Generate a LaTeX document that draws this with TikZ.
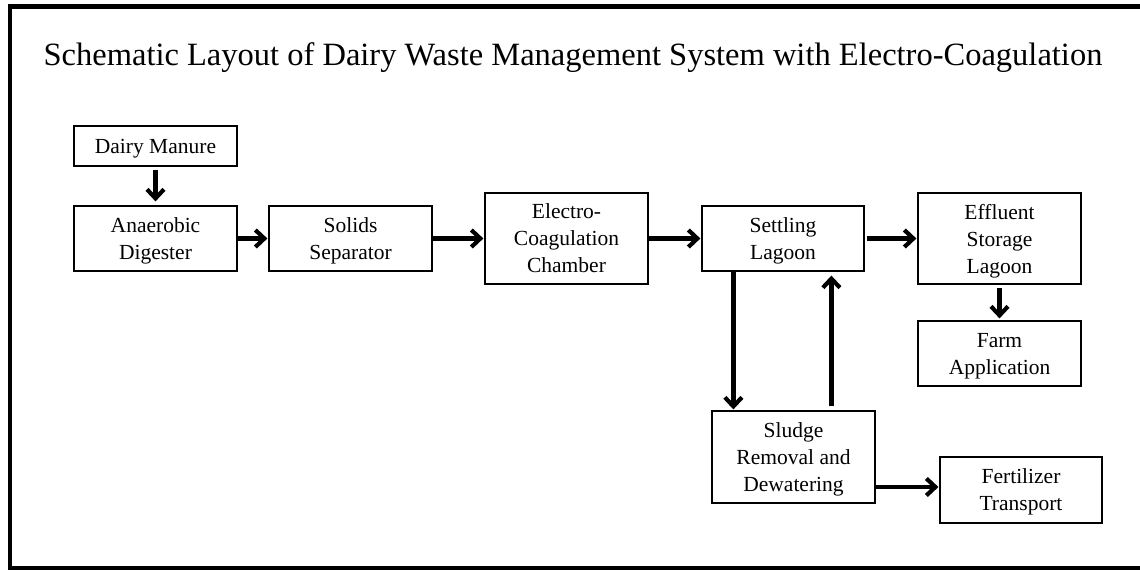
\documentclass[tikz,border=0pt]{standalone}
\usepackage{fontspec}
\setmainfont{Liberation Serif}
\usetikzlibrary{arrows.meta}
\tikzset{
  blk/.style={draw=black, line width=1.2pt, rectangle, inner sep=0pt, align=center,
    text depth=0pt, font=\fontsize{21.5}{27}\selectfont},
  arr/.style={line width=4.2pt, -{Straight Barb[length=9pt,width=17pt]}},
}
\begin{document}
\begin{tikzpicture}[x=1pt,y=-1pt]
\useasboundingbox (0,0) rectangle (1140,570);
\draw[line width=4.5pt] (10,6.5) rectangle (1160,568.5);
\node[anchor=base, font=\fontsize{32.5}{38}\selectfont] (title) at (573,65) {Schematic Layout of Dairy Waste Management System with Electro-Coagulation};
\node[blk, minimum width=163pt, minimum height=40pt] (dm) at (155.5,146) {Dairy Manure};
\node[blk, minimum width=163pt, minimum height=65pt] (ad) at (155.5,238.5) {Anaerobic\\Digester};
\node[blk, minimum width=163pt, minimum height=65pt] (ss) at (350.5,238.5) {Solids\\Separator};
\node[blk, minimum width=163pt, minimum height=91pt] (ec) at (566.5,238.5) {Electro-\\Coagulation\\Chamber};
\node[blk, minimum width=162pt, minimum height=65pt] (sl) at (783,238.5) {Settling\\Lagoon};
\node[blk, minimum width=163pt, minimum height=91pt] (es) at (999.5,238.5) {Effluent\\Storage\\Lagoon};
\node[blk, minimum width=163pt, minimum height=65pt] (fa) at (999.5,353.5) {Farm\\Application};
\node[blk, minimum width=163pt, minimum height=92pt] (sr) at (793.5,457) {Sludge\\Removal and\\Dewatering};
\node[blk, minimum width=162pt, minimum height=66pt] (ft) at (1021,490) {Fertilizer\\Transport};
\draw[arr, shorten <=3pt, shorten >=4pt] (dm.south) -- (ad.north);
\draw[arr, shorten >=1pt] (ad.east) -- (ss.west);
\draw[arr, shorten >=1pt] (ss.east) -- (ec.west);
\draw[arr, shorten >=1pt] (ec.east) -- (sl.west);
\draw[arr, shorten <=2pt, shorten >=1pt] (sl.east) -- (es.west);
\draw[arr, shorten <=3pt, shorten >=2pt] (es.south) -- (fa.north);
\draw[arr, shorten >=1pt] ([xshift=32pt]sl.south west) -- ([xshift=22pt]sr.north west);
\draw[arr, shorten <=4pt, shorten >=4pt] ([xshift=120pt]sr.north west) -- ([xshift=130pt]sl.south west);
\draw[arr, shorten >=1pt] (sr.east |- 0,487) -- (ft.west |- 0,487);
\end{tikzpicture}
\end{document}
